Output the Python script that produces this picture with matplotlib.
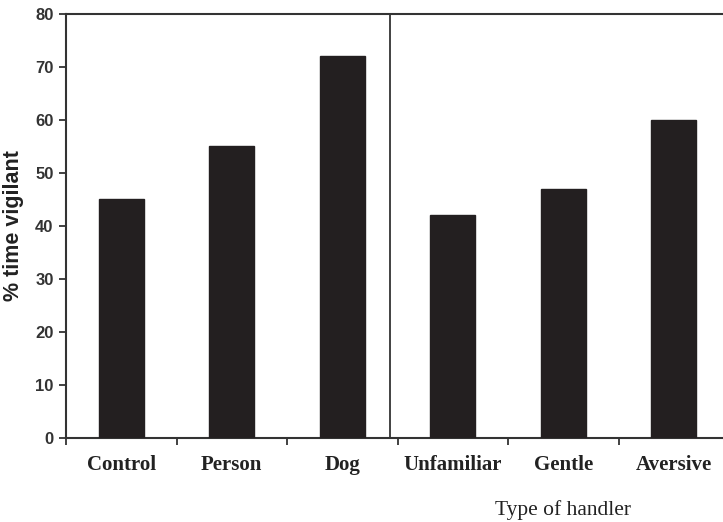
import numpy as np
import matplotlib.pyplot as plt
from matplotlib.ticker import FixedLocator

# ---------- data ----------
categories = ["Control", "Person", "Dog", "Unfamiliar", "Gentle", "Aversive"]
vigilance = [45, 55, 72, 42, 47, 60]
y_ticks = [0, 10, 20, 30, 40, 50, 60, 70, 80]


def main():
    fig = plt.figure(figsize=(7.23, 5.22), dpi=100)
    ax = fig.add_axes([66 / 723, 84 / 522, 663 / 723, 424 / 522])

    x = np.arange(len(categories))
    ax.bar(x, vigilance, width=0.41, color="#231f20", edgecolor="#231f20", zorder=3)

    ax.set_xlim(-0.5, len(categories) - 0.5)
    ax.set_ylim(0, 80)

    # divider between the two groups
    ax.axvline(2.43, color="#333333", lw=1.3, zorder=2)

    for side in ["left", "bottom", "top"]:
        ax.spines[side].set_color("#333333")
        ax.spines[side].set_linewidth(1.5)
    ax.spines["right"].set_visible(False)

    ax.set_yticks(y_ticks)
    ax.set_yticklabels([str(v) for v in y_ticks], fontfamily="Liberation Sans",
                       fontweight="bold", fontsize=12, color="#333333")
    ax.tick_params(axis="y", direction="out", length=5, width=1.3, color="#333333", pad=4)

    # ticks at group boundaries, labels at bar centres
    ax.xaxis.set_major_locator(FixedLocator(np.arange(-0.5, len(categories) - 0.5, 1.0)))
    ax.xaxis.set_minor_locator(FixedLocator(x))
    ax.set_xticklabels([], minor=False)
    ax.set_xticklabels(categories, minor=True, fontfamily="Liberation Serif",
                       fontweight="bold", fontsize=15, color="#222222")
    ax.tick_params(axis="x", which="major", direction="out", length=5, width=1.3,
                   color="#333333")
    ax.tick_params(axis="x", which="minor", length=0, pad=12)

    ax.set_ylabel("% time vigilant", fontfamily="Liberation Sans", fontweight="bold",
                  fontsize=15.5, color="#222222", labelpad=8)

    fig.text((66 + 4.5 * 110.5) / 723, 1 - 510 / 522, "Type of handler",
             fontfamily="Liberation Serif", fontsize=15.5, color="#222222",
             ha="center", va="center")

    fig.savefig("out.png", dpi=100)


if __name__ == "__main__":
    main()
